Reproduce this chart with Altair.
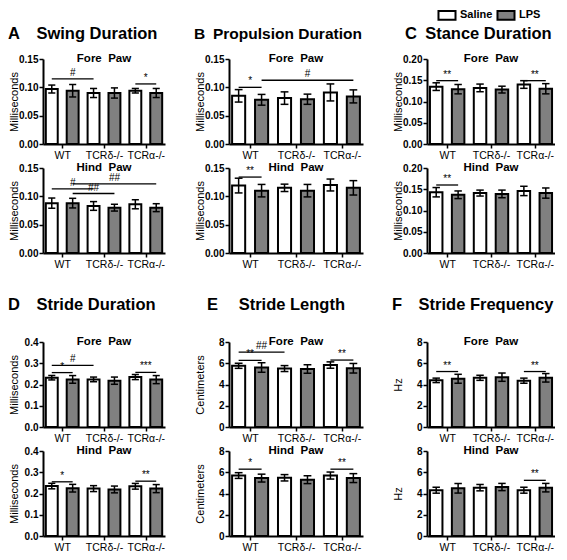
import altair as alt
import pandas as pd

FONT = "Liberation Sans"

groups = ["WT", "TCRδ-/-", "TCRα-/-"]
treatments = ["Saline", "LPS"]
bar_treat = ["Saline", "LPS", "Saline", "LPS", "Saline", "LPS"]
bar_pos = [0, 1, 2, 3, 4, 5]

# A  Swing Duration
swing_fore_mean = [0.097, 0.094, 0.090, 0.090, 0.094, 0.090]
swing_fore_err = [0.007, 0.011, 0.008, 0.009, 0.004, 0.008]
swing_fore_sig = [(0, 2, 0.115, "#"), (4, 5, 0.106, "*")]
swing_hind_mean = [0.088, 0.088, 0.083, 0.080, 0.086, 0.080]
swing_hind_err = [0.009, 0.0085, 0.0077, 0.006, 0.008, 0.007]
swing_hind_sig = [(0, 2, 0.113, "#"), (1, 5, 0.122, "##"), (1, 3, 0.105, "##")]

# B  Propulsion Duration
prop_fore_mean = [0.085, 0.078, 0.081, 0.079, 0.091, 0.084]
prop_fore_err = [0.011, 0.0095, 0.011, 0.009, 0.015, 0.0115]
prop_fore_sig = [(0, 1, 0.100, "*"), (1, 5, 0.1125, "#")]
prop_hind_mean = [0.119, 0.110, 0.115, 0.110, 0.120, 0.115]
prop_hind_err = [0.013, 0.011, 0.0065, 0.011, 0.0105, 0.0127]
prop_hind_sig = [(0, 1, 0.134, "**")]

# C  Stance Duration
stance_fore_mean = [0.135, 0.129, 0.132, 0.128, 0.140, 0.130]
stance_fore_err = [0.009, 0.011, 0.009, 0.008, 0.009, 0.012]
stance_fore_sig = [(0, 1, 0.149, "**"), (4, 5, 0.149, "**")]
stance_hind_mean = [0.143, 0.137, 0.141, 0.139, 0.146, 0.141]
stance_hind_err = [0.011, 0.009, 0.007, 0.009, 0.011, 0.012]
stance_hind_sig = [(0, 1, 0.160, "**")]

# D  Stride Duration
sdur_fore_mean = [0.232, 0.224, 0.224, 0.218, 0.235, 0.223]
sdur_fore_err = [0.0105, 0.018, 0.011, 0.017, 0.012, 0.019]
sdur_fore_sig = [(0, 2, 0.290, "#"), (0, 1, 0.256, "*"), (4, 5, 0.257, "***")]
sdur_hind_mean = [0.235, 0.225, 0.223, 0.219, 0.234, 0.223]
sdur_hind_err = [0.013, 0.018, 0.014, 0.016, 0.0135, 0.019]
sdur_hind_sig = [(0, 1, 0.255, "*"), (4, 5, 0.258, "**")]

# E  Stride Length
slen_fore_mean = [5.76, 5.60, 5.50, 5.46, 5.83, 5.53]
slen_fore_err = [0.24, 0.45, 0.28, 0.40, 0.30, 0.45]
slen_fore_sig = [(0, 2, 7.05, "##"), (0, 1, 6.27, "**"), (4, 5, 6.30, "**")]
slen_hind_mean = [5.69, 5.45, 5.48, 5.30, 5.69, 5.45]
slen_hind_err = [0.27, 0.37, 0.30, 0.37, 0.33, 0.42]
slen_hind_sig = [(0, 1, 6.29, "*"), (4, 5, 6.29, "**")]

# F  Stride Frequency
sfreq_fore_mean = [4.39, 4.54, 4.63, 4.69, 4.36, 4.63]
sfreq_fore_err = [0.21, 0.42, 0.24, 0.39, 0.24, 0.40]
sfreq_fore_sig = [(0, 1, 5.22, "**"), (4, 5, 5.22, "**")]
sfreq_hind_mean = [4.31, 4.49, 4.55, 4.61, 4.31, 4.55]
sfreq_hind_err = [0.28, 0.45, 0.30, 0.34, 0.28, 0.40]
sfreq_hind_sig = [(4, 5, 5.24, "**")]

H = 85
W1, W2, W3 = 122, 134, 128

LEG = alt.Legend(
    title=None, orient="none", legendX=394, legendY=-54, direction="horizontal",
    symbolType="M-1,-0.5H1V0.5H-1Z", symbolSize=290, symbolStrokeColor="black",
    symbolStrokeWidth=2, labelFontSize=11, labelFontWeight="bold", labelFont=FONT,
    labelOffset=3, columnPadding=0, padding=0, offset=0,
)

label_expr = "datum.value < 1 ? '%s' : datum.value < 3 ? '%s' : '%s'" % tuple(groups)


def subplot(name, means, errs, sig, ymax, yticks, yfmt, ytitle, width):
    df = pd.DataFrame({"pos": bar_pos, "treat": bar_treat, "mean": means, "err": errs})
    sdf = pd.DataFrame({
        "s": [a[0] for a in sig], "e": [a[1] for a in sig],
        "y": [a[2] for a in sig], "label": [a[3] for a in sig],
    })
    xs = alt.Scale(domain=[-0.42, 5.42], nice=False, zero=False)
    ys = alt.Scale(domain=[0, ymax], nice=False, zero=True)
    xaxis = alt.Axis(values=[0.5, 2.5, 4.5], labelExpr=label_expr, title=None, grid=False,
                     labelFlush=False, labelOverlap=False)
    yaxis = alt.Axis(values=yticks, format=yfmt, title=ytitle, grid=False,
                     labelFlush=False, labelOverlap=False)

    def X(f):
        return alt.X(f, scale=xs, axis=xaxis)

    def Y(f):
        return alt.Y(f, scale=ys, axis=yaxis)

    base = alt.Chart(df).transform_calculate(
        lo="datum.mean - datum.err", hi="datum.mean + datum.err",
        x0="datum.pos - 0.285", x1="datum.pos + 0.285",
        c0="datum.pos - 0.17", c1="datum.pos + 0.17",
    )
    bars = base.mark_bar(stroke="black", strokeWidth=2).encode(
        x=X("x0:Q"), x2="x1:Q", y=Y("mean:Q"), y2=alt.datum(0),
        fill=alt.Fill("treat:N", scale=alt.Scale(domain=treatments, range=["white", "#808080"]),
                      legend=LEG),
    )
    eline = base.mark_rule(color="black", strokeWidth=1.5).encode(
        x=X("pos:Q"), y=Y("lo:Q"), y2="hi:Q")
    caps = base.transform_fold(["lo", "hi"]).mark_rule(color="black", strokeWidth=1.5).encode(
        x=X("c0:Q"), x2="c1:Q", y=Y("value:Q"))
    sline = alt.Chart(sdf).mark_rule(color="black", strokeWidth=1.3).encode(
        x=X("s:Q"), x2="e:Q", y=Y("y:Q"))
    stext = alt.Chart(sdf).transform_calculate(m="(datum.s + datum.e) / 2").mark_text(
        baseline="bottom", dy=-1, fontSize=10, font=FONT, color="black").encode(
        x=X("m:Q"), y=Y("y:Q"), text="label:N")
    return alt.layer(bars, eline, caps, sline, stext).properties(
        width=width, height=H,
        title=alt.TitleParams(name, anchor="middle", fontSize=11.5, fontWeight="bold",
                              font=FONT, baseline="alphabetic", offset=-8, dy=11),
    )


def block(title, dx, size, off, fore, hind):
    return alt.vconcat(fore, hind, spacing=0, title=alt.TitleParams(
        title, anchor="start", dx=dx, fontSize=size, fontWeight="bold", font=FONT, offset=off))


FP = "Fore\u00a0\u00a0Paw"
HP = "Hind\u00a0\u00a0Paw"
t015 = [0, 0.05, 0.10, 0.15]
t020 = [0, 0.05, 0.10, 0.15, 0.20]
t04 = [0, 0.1, 0.2, 0.3, 0.4]
t8 = [0, 2, 4, 6, 8]

A = block("A\u2003Swing Duration", 0, 16.5, 10,
          subplot(FP, swing_fore_mean, swing_fore_err, swing_fore_sig, 0.15, t015, ".2f", "Milliseconds", W1),
          subplot(HP, swing_hind_mean, swing_hind_err, swing_hind_sig, 0.15, t015, ".2f", "Milliseconds", W1))
B = block("B\u2002Propulsion Duration", 0, 15.5, 10,
          subplot(FP, prop_fore_mean, prop_fore_err, prop_fore_sig, 0.15, t015, ".2f", "Milliseconds", W2),
          subplot(HP, prop_hind_mean, prop_hind_err, prop_hind_sig, 0.15, t015, ".2f", "Milliseconds", W2))
C = block("C\u2002Stance Duration", 13, 16.5, 10,
          subplot(FP, stance_fore_mean, stance_fore_err, stance_fore_sig, 0.20, t020, ".2f", "Milliseconds", W3),
          subplot(HP, stance_hind_mean, stance_hind_err, stance_hind_sig, 0.20, t020, ".2f", "Milliseconds", W3))
D = block("D\u2003Stride Duration", 0, 16.5, 22,
          subplot(FP, sdur_fore_mean, sdur_fore_err, sdur_fore_sig, 0.4, t04, ".1f", "Milliseconds", W1),
          subplot(HP, sdur_hind_mean, sdur_hind_err, sdur_hind_sig, 0.4, t04, ".1f", "Milliseconds", W1))
E = block("E\u2003\u2005Stride Length", 13, 16.5, 22,
          subplot(FP, slen_fore_mean, slen_fore_err, slen_fore_sig, 8, t8, "d", "Centimeters", W2),
          subplot(HP, slen_hind_mean, slen_hind_err, slen_hind_sig, 8, t8, "d", "Centimeters", W2))
F = block("F\u2003Stride Frequency", 0, 16.5, 22,
          subplot(FP, sfreq_fore_mean, sfreq_fore_err, sfreq_fore_sig, 8, t8, "d", "Hz", W3),
          subplot(HP, sfreq_hind_mean, sfreq_hind_err, sfreq_hind_sig, 8, t8, "d", "Hz", W3))

chart = alt.vconcat(
    alt.hconcat(A, B, C, spacing=29),
    alt.hconcat(D, E, F, spacing=29),
    spacing=27,
).properties(padding={"top": -3, "left": 0, "right": 0, "bottom": 0}).configure_view(
    stroke=None
).configure_axis(
    domainColor="black", domainWidth=2, tickColor="black", tickWidth=1.5, tickSize=4,
    labelColor="black", titleColor="black", labelFont=FONT, titleFont=FONT, grid=False,
).configure_axisY(
    labelFontWeight="bold", labelFontSize=10, labelPadding=1, minExtent=23, maxExtent=23,
    titleFontSize=11, titleFontWeight="normal", titlePadding=1,
).configure_axisX(
    labelFontSize=10.5, labelPadding=2, labelFontWeight="normal",
).configure_title(color="black")

chart.save("out.html", embed_options={"renderer": "svg", "actions": False})
